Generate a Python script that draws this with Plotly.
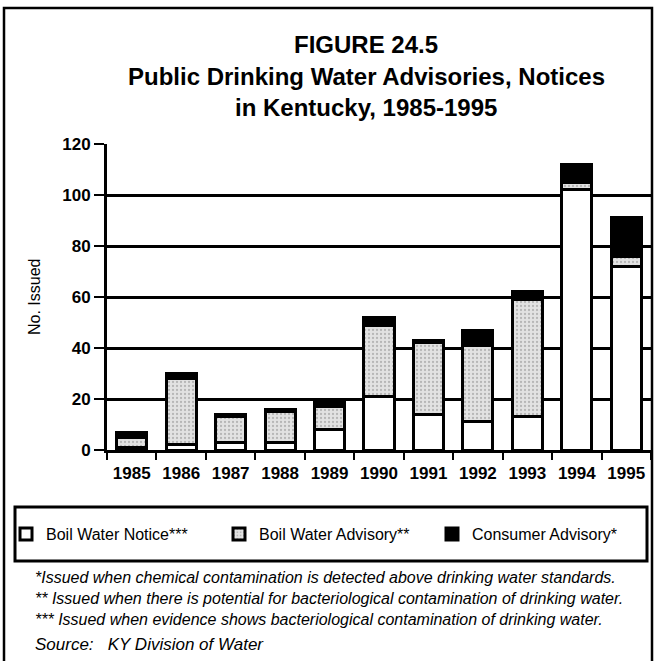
import plotly.graph_objects as go

years = ["1985", "1986", "1987", "1988", "1989", "1990",
         "1991", "1992", "1993", "1994", "1995"]
boil_water_notice = [1, 2, 3, 3, 8, 21, 14, 11, 13, 102, 72]
boil_water_advisory = [4, 26, 10, 12, 9, 28, 28, 30, 46, 3, 4]
consumer_advisory = [2, 2, 1, 1, 2, 3, 1, 6, 3, 7, 15]

y_ticks = [0, 20, 40, 60, 80, 100, 120]

title_lines = ["FIGURE 24.5",
               "Public Drinking Water Advisories, Notices",
               "in Kentucky, 1985-1995"]
footnotes = [
    "*Issued when chemical contamination is detected above drinking water standards.",
    "** Issued when there is potential for bacteriological contamination of drinking water.",
    "*** Issued when evidence shows bacteriological contamination of drinking water.",
]
source_note = "Source:&nbsp;&nbsp; KY Division of Water"

W, H = 657, 661
PX0, PX1, PY0, PY1 = 107, 651, 144, 450   # plot area in pixels
FONT = "Liberation Sans, Arial, sans-serif"


def px(x):
    return (x - PX0) / (PX1 - PX0)


def py(y):
    return (PY1 - y) / (PY1 - PY0)


fig = go.Figure()
fig.add_trace(go.Bar(
    x=years, y=boil_water_notice, name="Boil Water Notice***",
    marker=dict(color="white", line=dict(color="black", width=3)),
))
fig.add_trace(go.Bar(
    x=years, y=boil_water_advisory, name="Boil Water Advisory**",
    marker=dict(color="#dcdcdc", line=dict(color="black", width=3),
                pattern=dict(shape=".", fgcolor="#8a8a8a", bgcolor="#e2e2e2",
                             size=4, solidity=0.25)),
))
fig.add_trace(go.Bar(
    x=years, y=consumer_advisory, name="Consumer Advisory*",
    marker=dict(color="black", line=dict(color="black", width=3)),
))

# title
for text, yc in zip(title_lines, [44, 77, 107]):
    fig.add_annotation(text=f"<b>{text}</b>", x=px(366), y=py(yc),
                       xref="paper", yref="paper", showarrow=False,
                       xanchor="center", yanchor="middle",
                       font=dict(family=FONT, size=24, color="black"))

# y axis title
fig.add_annotation(text="No. Issued", x=px(34), y=py(297), xref="paper", yref="paper",
                   showarrow=False, textangle=-90, xanchor="center", yanchor="middle",
                   font=dict(family=FONT, size=16, color="black"))

# footnotes
for text, yc in zip(footnotes, [577, 598, 619]):
    fig.add_annotation(text=f"<i>{text}</i>", x=px(33), y=py(yc),
                       xref="paper", yref="paper", showarrow=False,
                       xanchor="left", yanchor="middle",
                       font=dict(family=FONT, size=16, color="black"))
fig.add_annotation(text=f"<i>{source_note}</i>", x=px(33), y=py(644),
                   xref="paper", yref="paper", showarrow=False,
                   xanchor="left", yanchor="middle",
                   font=dict(family=FONT, size=17, color="black"))

# outer frame and legend box
fig.add_shape(type="rect", xref="paper", yref="paper",
              x0=px(4), x1=px(652), y0=py(700), y1=py(8),
              line=dict(color="black", width=2.5))
fig.add_shape(type="rect", xref="paper", yref="paper",
              x0=px(15), x1=px(647), y0=py(561), y1=py(507),
              line=dict(color="black", width=3))

fig.update_layout(
    width=W, height=H,
    barmode="stack", bargap=0.39,
    paper_bgcolor="white", plot_bgcolor="white",
    margin=dict(l=PX0, r=W - PX1, t=PY0, b=H - PY1),
    font=dict(family=FONT, color="black"),
    showlegend=True,
    legend=dict(orientation="h", x=px(6), y=py(534), xanchor="left", yanchor="middle",
                traceorder="normal", itemwidth=30, entrywidth=168,
                bgcolor="rgba(0,0,0,0)",
                font=dict(family=FONT, size=16, color="black")),
)
fig.update_xaxes(
    type="category", showgrid=False, showline=True, linecolor="black", linewidth=3,
    ticks="outside", tickson="boundaries", ticklen=7, tickwidth=2, tickcolor="black",
    ticklabelstandoff=6,
    tickfont=dict(family=FONT, size=17, color="black", weight="bold"),
)
fig.update_yaxes(
    range=[0, 120], tickvals=y_ticks, showgrid=True, gridcolor="black", gridwidth=3,
    showline=True, linecolor="black", linewidth=3, zeroline=False,
    ticks="outside", ticklen=10, tickwidth=2, tickcolor="black",
    tickfont=dict(family=FONT, size=17, color="black", weight="bold"),
)

# no page margin, so the figure sits at the window's top-left corner
fig.write_html("out.html", config={"displayModeBar": False},
               post_script="document.body.style.margin='0';"
                           "document.body.style.overflow='hidden';")
